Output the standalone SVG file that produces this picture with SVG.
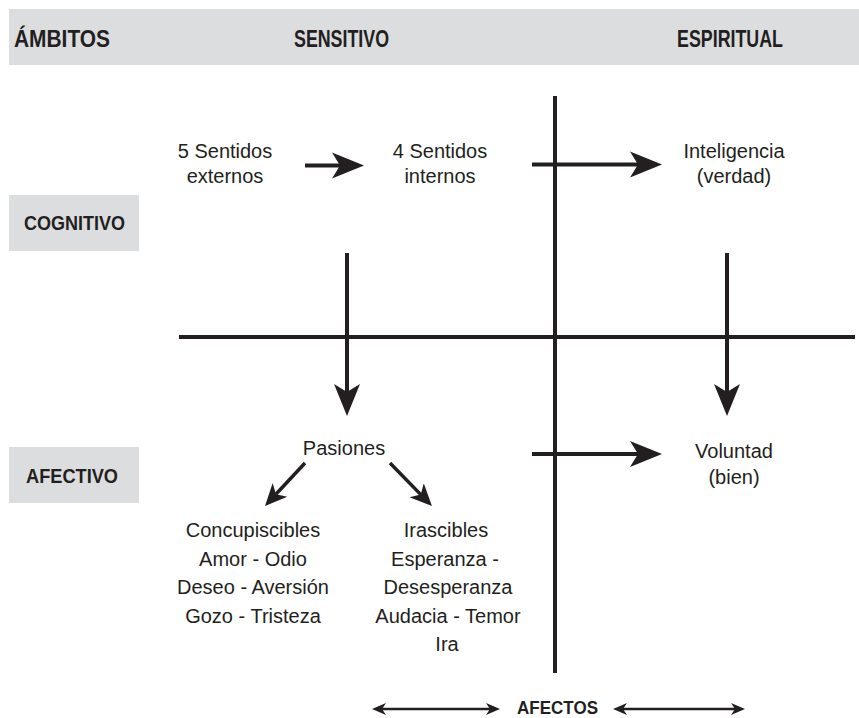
<svg xmlns="http://www.w3.org/2000/svg" width="859" height="718" viewBox="0 0 859 718">
<style>
.hdr{font-family:"Liberation Sans",Arial,sans-serif;font-weight:bold;fill:#231f20}
.t{font-family:"Liberation Sans",Arial,sans-serif;font-size:20px;fill:#231f20;text-anchor:middle}
.box{fill:#dcdddf}
.ln{stroke:#231f20;stroke-width:4;fill:none}
.big{stroke:#231f20;stroke-width:4;fill:none;marker-end:url(#ah)}
.mid{stroke:#231f20;stroke-width:3.5;fill:none;marker-end:url(#ahs)}
.dbl{stroke:#231f20;stroke-width:2.5;fill:none;marker-start:url(#ahd);marker-end:url(#ahd)}
</style>
<defs>
<marker id="ah" markerUnits="userSpaceOnUse" markerWidth="34" markerHeight="28" viewBox="0 0 34 28" refX="8" refY="14" orient="auto">
<path d="M0,1 L32,14 L0,27 L8,14 Z" fill="#231f20"/>
</marker>
<marker id="ahs" markerUnits="userSpaceOnUse" markerWidth="24" markerHeight="22" viewBox="0 0 24 22" refX="6" refY="11" orient="auto">
<path d="M0,1 L22,11 L0,21 L6,11 Z" fill="#231f20"/>
</marker>
<marker id="ahd" markerUnits="userSpaceOnUse" markerWidth="16" markerHeight="14" viewBox="0 0 16 14" refX="4" refY="7" orient="auto-start-reverse">
<path d="M0,1 L14,7 L0,13 L4,7 Z" fill="#231f20"/>
</marker>
</defs>
<rect width="859" height="718" fill="#ffffff"/>

<g id="header">
<rect class="box" x="9" y="9" width="850" height="56"/>
<text class="hdr" x="14" y="47" font-size="23" textLength="96" lengthAdjust="spacingAndGlyphs">ÁMBITOS</text>
<text class="hdr" x="294" y="47" font-size="23" textLength="95" lengthAdjust="spacingAndGlyphs">SENSITIVO</text>
<text class="hdr" x="677" y="47" font-size="23" textLength="106" lengthAdjust="spacingAndGlyphs">ESPIRITUAL</text>
</g>

<g id="cognitivo">
<rect class="box" x="9" y="195" width="130" height="56"/>
<text class="hdr" x="24" y="230" font-size="20.5" textLength="101" lengthAdjust="spacingAndGlyphs">COGNITIVO</text>
</g>

<g id="afectivo">
<rect class="box" x="9" y="447" width="130" height="56"/>
<text class="hdr" x="26" y="483" font-size="20.5" textLength="92" lengthAdjust="spacingAndGlyphs">AFECTIVO</text>
</g>

<g id="sentidos-externos">
<text class="t" x="225" y="158">5 Sentidos</text>
<text class="t" x="225" y="183">externos</text>
</g>

<g id="sentidos-internos">
<text class="t" x="440" y="158">4 Sentidos</text>
<text class="t" x="440" y="183">internos</text>
</g>

<g id="inteligencia">
<text class="t" x="734" y="158">Inteligencia</text>
<text class="t" x="734" y="183">(verdad)</text>
</g>

<g id="pasiones">
<text class="t" x="344" y="455">Pasiones</text>
</g>

<g id="voluntad">
<text class="t" x="734" y="458">Voluntad</text>
<text class="t" x="734" y="484">(bien)</text>
</g>

<g id="concupiscibles">
<text class="t" x="253" y="537">Concupiscibles</text>
<text class="t" x="253" y="565.5">Amor - Odio</text>
<text class="t" x="253" y="594">Deseo - Aversión</text>
<text class="t" x="253" y="622.5">Gozo - Tristeza</text>
</g>

<g id="irascibles">
<text class="t" x="446" y="537">Irascibles</text>
<text class="t" x="445" y="565.5">Esperanza -</text>
<text class="t" x="448" y="594">Desesperanza</text>
<text class="t" x="448" y="622.5">Audacia - Temor</text>
<text class="t" x="447" y="651">Ira</text>
</g>

<g id="afectos">
<text class="hdr" x="517" y="714" font-size="19" textLength="81" lengthAdjust="spacingAndGlyphs">AFECTOS</text>
</g>

<g id="connectors">
<line class="ln" x1="555" y1="96" x2="555" y2="673"/>
<line class="ln" x1="179" y1="337" x2="855" y2="337"/>
<line class="big" x1="305" y1="165.5" x2="340" y2="165.5"/>
<line class="big" x1="532" y1="164.5" x2="638" y2="164.5"/>
<line class="big" x1="532" y1="454" x2="638" y2="454"/>
<line class="big" x1="347" y1="253" x2="347" y2="392"/>
<line class="big" x1="727" y1="253" x2="727" y2="392"/>
<line class="mid" x1="305" y1="463" x2="275.9" y2="494.3"/>
<line class="mid" x1="390" y1="463" x2="420.8" y2="494.6"/>
<line class="dbl" x1="382" y1="709" x2="490" y2="709"/>
<line class="dbl" x1="623" y1="709" x2="735" y2="709"/>
</g>
</svg>
